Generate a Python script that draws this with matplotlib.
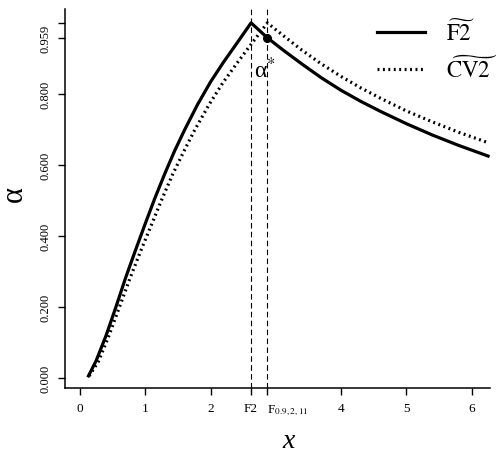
import matplotlib
matplotlib.use('Agg')
import matplotlib.pyplot as plt

# values
f2_x = [0.13, 0.25, 0.40, 0.55, 0.70, 0.85, 1.00, 1.15, 1.30, 1.45, 1.60, 1.80,
        2.00, 2.20, 2.40, 2.62,
        2.87, 3.10, 3.40, 3.70, 4.00, 4.30, 4.60, 5.00, 5.40, 5.80, 6.25]
f2_y = [0.006, 0.050, 0.120, 0.200, 0.283, 0.360, 0.435, 0.508, 0.576, 0.640, 0.698, 0.770,
        0.834, 0.890, 0.942, 1.000,
        0.958, 0.925, 0.884, 0.845, 0.810, 0.779, 0.751, 0.716, 0.684, 0.655, 0.625]
cv2_x = [0.14, 0.28, 0.44, 0.60, 0.77, 0.93, 1.10, 1.26, 1.42, 1.59, 1.75, 1.97,
         2.19, 2.41, 2.63, 2.87,
         3.10, 3.40, 3.70, 4.00, 4.30, 4.60, 5.00, 5.40, 5.80, 6.23]
cv2_y = [0.006, 0.046, 0.118, 0.198, 0.283, 0.358, 0.434, 0.506, 0.574, 0.638, 0.696, 0.768,
         0.832, 0.888, 0.942, 1.000,
         0.966, 0.923, 0.884, 0.849, 0.817, 0.788, 0.752, 0.721, 0.692, 0.664]
f2_stat = 2.62
f_crit = 2.87
alpha_star = 0.958
xticks = [0, 1, 2, f2_stat, f_crit, 4, 5, 6]
xtick_labels = ['0', '1', '2', 'F2', r'F$_{0.9,2,11}$', '4', '5', '6']
yticks = [0.0, 0.2, 0.4, 0.6, 0.8, alpha_star, 1.0]
ytick_labels = ['0.000', '0.200', '0.400', '0.600', '0.800', '0.959', '']

plt.rcParams['font.family'] = ['Liberation Serif', 'DejaVu Serif']
plt.rcParams['mathtext.fontset'] = 'stix'

fig = plt.figure(figsize=(4.98, 4.56), dpi=100)
ax = fig.add_axes([0.1305, 0.147, 0.8535, 0.831])

ax.plot(f2_x, f2_y, color='black', lw=2.3, label=r'$\widetilde{\mathrm{F2}}$')
ax.plot(cv2_x, cv2_y, color='black', lw=2.3, linestyle=(0, (0.6, 1.1)),
        label=r'$\widetilde{\mathrm{CV2}}$')
for v in (f2_stat, f_crit):
    ax.axvline(v, color='black', lw=0.8, linestyle=(0, (5, 3)))
ax.plot([f_crit], [alpha_star], 'o', color='black', markersize=5.5)
ax.text(2.83, 0.868, 'α$^{*}$', fontsize=17, ha='center', va='center')

ax.set_xlim(-0.23, 6.28)
ax.set_ylim(-0.028, 1.039)
ax.spines['top'].set_visible(False)
ax.spines['right'].set_visible(False)
for s in ('left', 'bottom'):
    ax.spines[s].set_linewidth(1.1)

ax.set_xticks(xticks)
ax.set_xticklabels(xtick_labels, fontsize=9.5)
for lab in ax.get_xticklabels():
    if lab.get_text().startswith('F$'):
        lab.set_horizontalalignment('left')
        lab.set_x(f_crit)
ax.set_yticks(yticks)
ax.set_yticklabels(ytick_labels, fontsize=9, rotation=90, va='center')
ax.tick_params(axis='both', length=5, width=1.0, pad=5)

ax.set_xlabel('x', fontsize=20, style='italic')
ax.xaxis.set_label_coords(0.527, -0.105)
ax.set_ylabel('α', fontsize=22)
ax.yaxis.set_label_coords(-0.085, 0.515)

ax.legend(loc='upper right', bbox_to_anchor=(0.998, 0.955),
          bbox_transform=fig.transFigure, frameon=False, fontsize=16.5,
          handlelength=2.1, handletextpad=0.9, labelspacing=0.45,
          borderpad=0, borderaxespad=0)

fig.savefig('out.png', dpi=100)
